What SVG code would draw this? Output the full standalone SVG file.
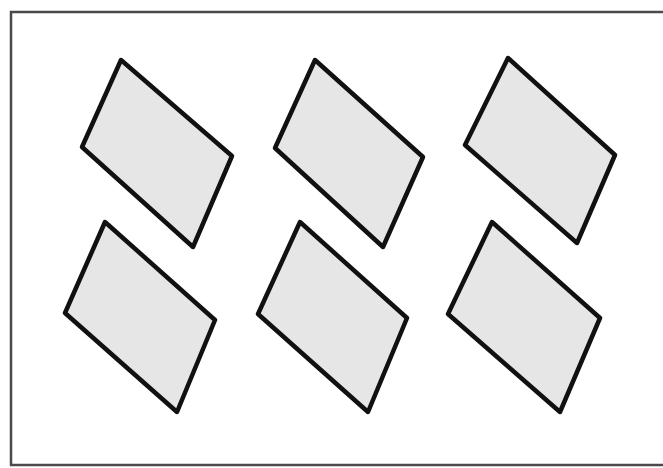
<svg xmlns="http://www.w3.org/2000/svg" width="663" height="468" viewBox="0 0 663 468">
<style>
.frame{fill:#ffffff;stroke:#4a4a4a;stroke-width:2.5}
.tile{fill:#e6e6e6;stroke:#111111;stroke-width:4.5;stroke-linejoin:round}
</style>
<rect x="0" y="0" width="663" height="468" fill="#ffffff"/>
<rect class="frame" x="11" y="12" width="660" height="453"/>
<g id="tile-1"><polygon class="tile" points="121,60 232,156 193,247 82,147"/></g>
<g id="tile-2"><polygon class="tile" points="315,60 423,157 383,247 275,148"/></g>
<g id="tile-3"><polygon class="tile" points="508,58 615,155 577,243 465,145"/></g>
<g id="tile-4"><polygon class="tile" points="105,222 215,320 177,412 65,313"/></g>
<g id="tile-5"><polygon class="tile" points="300,222 407,318 368,412 258,314"/></g>
<g id="tile-6"><polygon class="tile" points="492,222 600,318 560,412 448,314"/></g>
<g id="connectors"></g>
</svg>
